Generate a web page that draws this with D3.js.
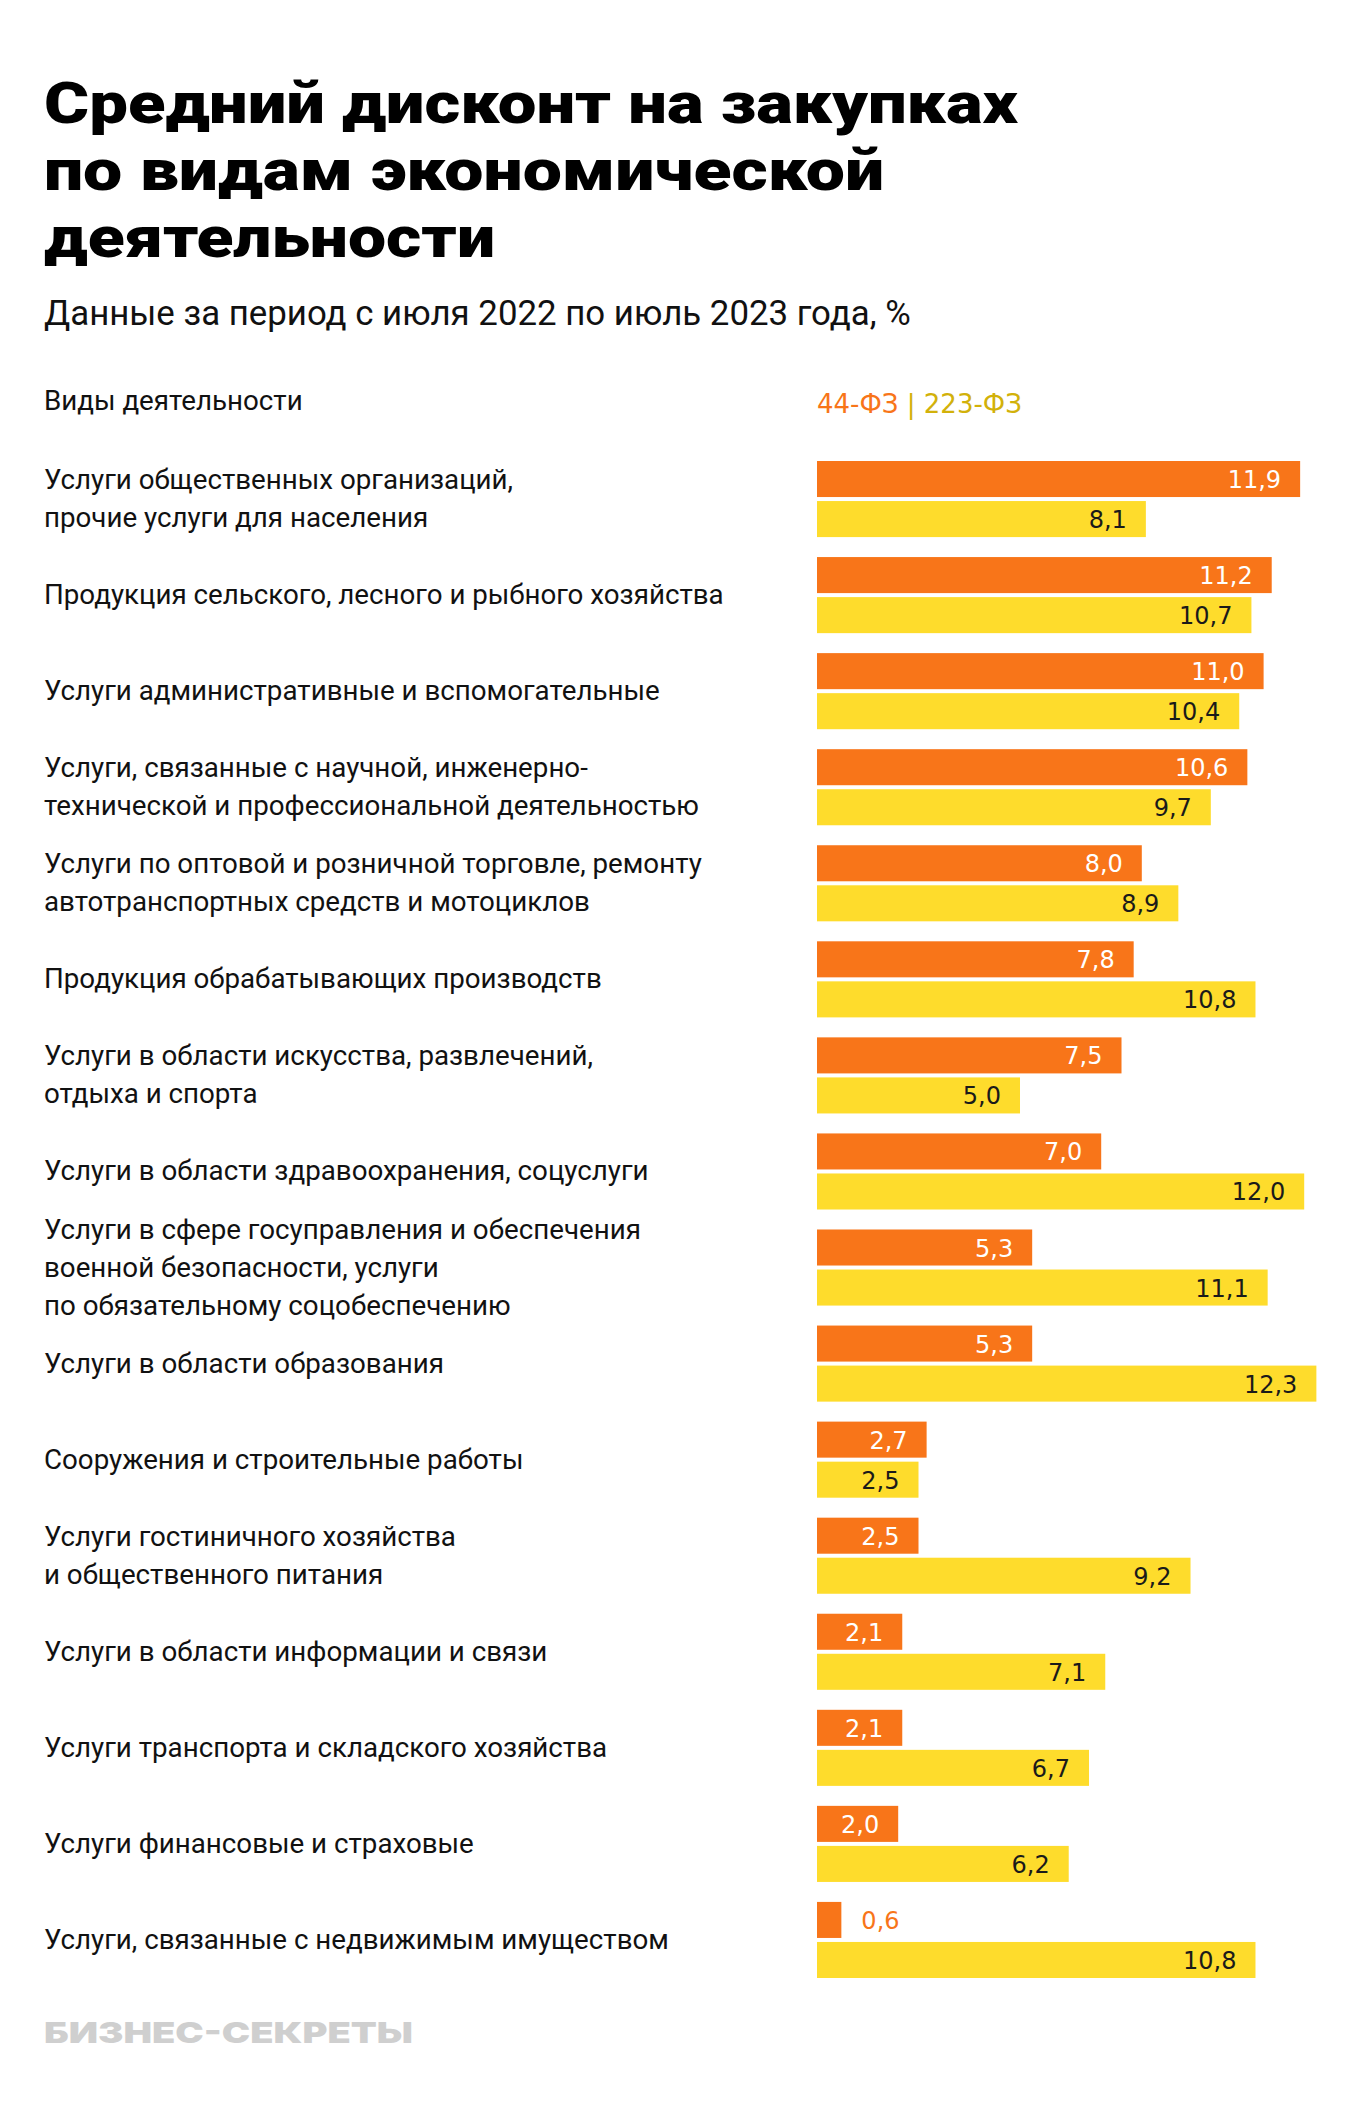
<!DOCTYPE html>
<html><head><meta charset="utf-8">
<script src="https://cdn.jsdelivr.net/npm/d3@7"></script>
<style>body{margin:0;background:#fff}svg{display:block}</style>
</head><body><svg id="c" width="1360" height="2110"></svg>
<script>
const titleLines = ["Средний дисконт на закупках", "по видам экономической", "деятельности"];
const subtitle = "Данные за период с июля 2022 по июль 2023 года, %";
const axisHeader = "Виды деятельности";
const seriesNames = ["44-ФЗ", "223-ФЗ"];
const categories = [
  ["Услуги общественных организаций,", "прочие услуги для населения"],
  ["Продукция сельского, лесного и рыбного хозяйства"],
  ["Услуги административные и вспомогательные"],
  ["Услуги, связанные с научной, инженерно-", "технической и профессиональной деятельностью"],
  ["Услуги по оптовой и розничной торговле, ремонту", "автотранспортных средств и мотоциклов"],
  ["Продукция обрабатывающих производств"],
  ["Услуги в области искусства, развлечений,", "отдыха и спорта"],
  ["Услуги в области здравоохранения, соцуслуги"],
  ["Услуги в сфере госуправления и обеспечения", "военной безопасности, услуги", "по обязательному соцобеспечению"],
  ["Услуги в области образования"],
  ["Сооружения и строительные работы"],
  ["Услуги гостиничного хозяйства", "и общественного питания"],
  ["Услуги в области информации и связи"],
  ["Услуги транспорта и складского хозяйства"],
  ["Услуги финансовые и страховые"],
  ["Услуги, связанные с недвижимым имуществом"]
];
const values44 = [11.9, 11.2, 11.0, 10.6, 8.0, 7.8, 7.5, 7.0, 5.3, 5.3, 2.7, 2.5, 2.1, 2.1, 2.0, 0.6];
const values223 = [8.1, 10.7, 10.4, 9.7, 8.9, 10.8, 5.0, 12.0, 11.1, 12.3, 2.5, 9.2, 7.1, 6.7, 6.2, 10.8];
const sourceLogo = "БИЗНЕС-СЕКРЕТЫ";

const ORANGE = "#F87519", YELLOW = "#FEDC2C", MUSTARD = "#D2B10A";
const svg = d3.select("#c");
svg.append("rect").attr("width", 1360).attr("height", 2110).attr("fill", "#fff");

// Title
const titleWidths = [974, 840, 451];
const title = svg.append("g");
titleLines.forEach((t, i) => {
  title.append("text").attr("x", 44).attr("y", 123 + i * 67)
    .attr("font-family", "Roboto, 'Noto Sans', sans-serif").attr("font-weight", 900)
    .attr("font-size", 57).attr("fill", "#000")
    .attr("textLength", titleWidths[i]).attr("lengthAdjust", "spacingAndGlyphs").text(t);
});

const sub = svg.append("text").attr("x", 44).attr("y", 325)
  .attr("font-family", "Roboto, sans-serif").attr("font-size", 33).attr("fill", "#111").text(subtitle);
{ const w = sub.node().getComputedTextLength(); sub.attr("font-size", 33 * 867 / w); }

const labelFont = "Roboto, 'Noto Sans', sans-serif";
let labelSize = 26;
{
  const probe = svg.append("text").attr("font-family", labelFont).attr("font-size", 26).text(categories[1][0]);
  labelSize = 26 * 680 / probe.node().getComputedTextLength();
  probe.remove();
}
svg.append("text").attr("x", 44).attr("y", 410)
  .attr("font-family", labelFont).attr("font-size", labelSize).attr("fill", "#111").text(axisHeader);

// legend
const valFont = "'DejaVu Sans', sans-serif";
const leg = svg.append("text").attr("x", 817).attr("y", 413)
  .attr("font-family", valFont).attr("font-size", 26);
leg.append("tspan").attr("fill", ORANGE).text(seriesNames[0]);
leg.append("tspan").attr("fill", MUSTARD).text(" | ");
leg.append("tspan").attr("fill", MUSTARD).text(seriesNames[1]);

// scales
const x = d3.scaleLinear().domain([0, 13]).range([817, 817 + 13 * 40.6]);
const y = d3.scaleBand().domain(d3.range(categories.length)).range([461, 1978]).paddingInner(0.208).paddingOuter(0);
const ySub = d3.scaleBand().domain([0, 1]).range([0, y.bandwidth()]).paddingInner(0.1);

const rows = categories.map((c, i) => ({ i, lines: c, vals: [values44[i], values223[i]] }));

const g = svg.append("g");
const row = g.selectAll("g.row").data(rows).join("g").attr("class", "row")
  .attr("transform", d => `translate(0,${y(d.i)})`);

// category labels
row.each(function(d) {
  const n = d.lines.length, cy = y.bandwidth() / 2;
  const t = d3.select(this).append("text").attr("font-family", labelFont)
    .attr("font-size", labelSize).attr("fill", "#111");
  d.lines.forEach((ln, k) => {
    t.append("tspan").attr("x", 44).attr("y", cy + (k - (n - 1) / 2) * 38 + 9).text(ln);
  });
});

const fmt = v => d3.format(".1f")(v).replace(".", ",");
const colors = [ORANGE, YELLOW];
const txtColorsIn = ["#fff", "#1a1a1a"];
row.each(function(d) {
  const sel = d3.select(this);
  d.vals.forEach((v, s) => {
    const by = ySub(s);
    sel.append("rect").attr("x", x(0)).attr("y", by)
      .attr("width", x(v) - x(0)).attr("height", ySub.bandwidth()).attr("fill", colors[s]);
    const lbl = sel.append("text").attr("font-family", valFont).attr("font-size", 24)
      .attr("y", by + ySub.bandwidth() / 2 + 9).text(fmt(v));
    const tw = lbl.node().getComputedTextLength();
    if (x(v) - x(0) > tw + 30) {
      lbl.attr("x", x(v) - 19).attr("text-anchor", "end").attr("fill", txtColorsIn[s]);
    } else {
      lbl.attr("x", x(v) + 20).attr("text-anchor", "start").attr("fill", colors[s] === YELLOW ? "#1a1a1a" : ORANGE);
    }
  });
});

// logo
svg.append("text").attr("x", 44).attr("y", 2043)
  .attr("font-family", "Inter, Roboto, sans-serif").attr("font-weight", 900)
  .attr("font-size", 29).attr("fill", "#CFCFCF")
  .attr("textLength", 369).attr("lengthAdjust", "spacingAndGlyphs").text(sourceLogo);
</script></body></html>
